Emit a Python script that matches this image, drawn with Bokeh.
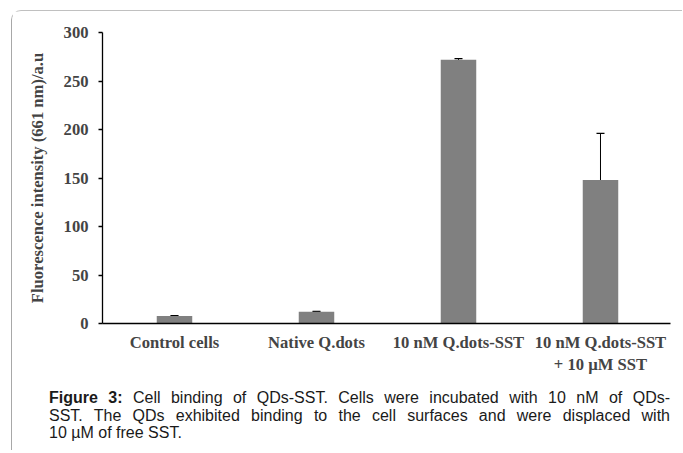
from bokeh.plotting import figure
from bokeh.layouts import column
from bokeh.models import ColumnDataSource, Whisker, FixedTicker, Range1d, TeeHead, Div
from bokeh.embed import file_html
from bokeh.resources import INLINE

categories = ["Control cells", "Native Q.dots", "10 nM Q.dots-SST", "10 nM Q.dots-SST\n+ 10 \u00b5M SST"]
values = [7.7, 12, 272, 148]
errors = [0.5, 0.5, 1.0, 48]
y_ticks = [0, 50, 100, 150, 200, 250, 300]
caption_lines = [
    "<b>Figure 3:</b> Cell binding of QDs-SST. Cells were incubated with 10 nM of QDs-",
    "SST. The QDs exhibited binding to the cell surfaces and were displaced with",
    "10 \u00b5M of free SST.",
]

xpos = list(range(len(categories)))
src = ColumnDataSource(dict(
    x=xpos, top=values,
    upper=[v + e for v, e in zip(values, errors)],
    lower=[v - e for v, e in zip(values, errors)],
))

PW, PH = 670, 378
p = figure(width=PW, height=PH, output_backend="svg", toolbar_location=None,
           x_range=Range1d(-0.507, 3.493), y_range=Range1d(0, 300),
           min_border_left=90, min_border_right=12, min_border_top=21, min_border_bottom=66)
p.outline_line_color = None
p.xgrid.visible = False
p.ygrid.visible = False
p.background_fill_color = "white"
p.border_fill_color = "white"

p.vbar(x="x", top="top", width=0.25, source=src, fill_color="#808080", line_color=None)
p.add_layout(Whisker(base="x", upper="upper", lower="lower", source=src,
                     line_color="black", line_width=1,
                     upper_head=TeeHead(size=8, line_color="black", line_width=1.3),
                     lower_head=TeeHead(size=8, line_color="black", line_width=1.3)))

serif = "Liberation Serif"
fs = "16.6px"
p.yaxis.ticker = FixedTicker(ticks=y_ticks)
p.yaxis.axis_label = "Fluorescence intensity (661 nm)/a.u"
p.yaxis.axis_label_text_font = serif
p.yaxis.axis_label_text_font_style = "bold"
p.yaxis.axis_label_text_font_size = fs
p.yaxis.axis_label_standoff = 14
p.yaxis.major_label_text_font = serif
p.yaxis.major_label_text_font_style = "bold"
p.yaxis.major_label_text_font_size = fs
p.yaxis.major_tick_in = 0
p.yaxis.major_tick_out = 4
p.yaxis.minor_tick_out = 0
p.yaxis.minor_tick_in = 0
p.yaxis.axis_line_width = 1.3
p.yaxis.major_tick_line_width = 1.3
p.yaxis.major_label_standoff = 10

p.xaxis.ticker = FixedTicker(ticks=xpos)
p.xaxis.major_label_overrides = {i: c for i, c in zip(xpos, categories)}
p.xaxis.major_label_text_font = serif
p.xaxis.major_label_text_font_style = "bold"
p.xaxis.major_label_text_font_size = fs
p.xaxis.major_tick_in = 0
p.xaxis.major_tick_out = 0
p.xaxis.minor_tick_out = 0
p.xaxis.minor_tick_in = 0
p.xaxis.axis_line_width = 1.7
p.xaxis.major_label_standoff = 9

CW = 621
just = f"display:block;width:{CW}px;white-space:nowrap;text-align:justify;text-align-last:justify;"
left = f"display:block;width:{CW}px;white-space:nowrap;text-align:left;"
html = "".join(
    f'<div style="{just if i < len(caption_lines) - 1 else left}">{t}</div>'
    for i, t in enumerate(caption_lines)
)
cap = Div(text=html, width=CW, margin=(0, 0, 0, 37),
          styles={"font-family": "'Liberation Sans', Arial, sans-serif", "font-size": "16px",
                  "line-height": "17.5px", "color": "#1a1a1a", "padding-bottom": "8px",
                  "display": "block"})

layout = column(p, cap, spacing=0, margin=(10, 0, 0, 11),
                styles={"border-top": "1px solid #c0c0c0", "border-left": "1px solid #a8a8a8",
                        "border-top-left-radius": "10px", "background": "white"})

open("out.html", "w").write(file_html(layout, INLINE))
